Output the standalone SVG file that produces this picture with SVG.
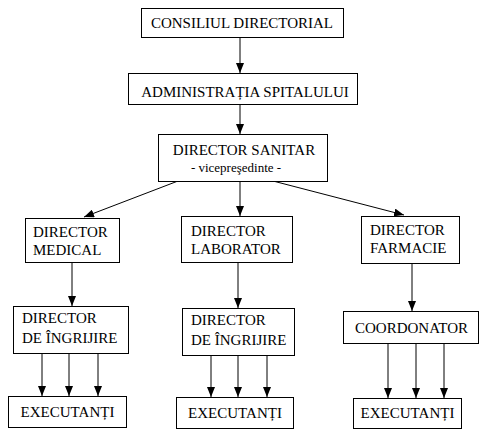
<svg xmlns="http://www.w3.org/2000/svg" width="490" height="439" viewBox="0 0 490 439">
<style>
  .box { fill: #fff; stroke: #000; stroke-width: 1; }
  text { font-family: 'Liberation Serif', 'DejaVu Serif', 'Times New Roman', serif; fill: #000; }
  .t { font-size: 15px; }
  .s { font-size: 13px; }
  .c { text-anchor: middle; }
  .ln { stroke: #000; stroke-width: 1; fill: none; marker-end: url(#ah); }
</style>
<defs>
  <marker id="ah" markerUnits="userSpaceOnUse" markerWidth="10" markerHeight="8" refX="10" refY="4" orient="auto">
    <path d="M0,0 L10,4 L0,8 z" fill="#000"/>
  </marker>
</defs>
<rect width="490" height="439" fill="#fff"/>
<g id="connectors">
  <line class="ln" x1="240" y1="37" x2="240" y2="73"/>
  <line class="ln" x1="240" y1="104" x2="240" y2="134"/>
  <line class="ln" x1="240" y1="181" x2="240" y2="216"/>
  <line class="ln" x1="178" y1="181" x2="84" y2="217"/>
  <line class="ln" x1="273" y1="181" x2="404" y2="215"/>
  <line class="ln" x1="72" y1="262" x2="72" y2="306"/>
  <line class="ln" x1="238" y1="262" x2="238" y2="308"/>
  <line class="ln" x1="412" y1="263" x2="412" y2="311"/>
  <line class="ln" x1="42" y1="353" x2="42" y2="396"/>
  <line class="ln" x1="69" y1="353" x2="69" y2="396"/>
  <line class="ln" x1="98" y1="353" x2="98" y2="396"/>
  <line class="ln" x1="211" y1="355" x2="211" y2="397"/>
  <line class="ln" x1="238" y1="355" x2="238" y2="397"/>
  <line class="ln" x1="267" y1="355" x2="267" y2="397"/>
  <line class="ln" x1="388" y1="343" x2="388" y2="398"/>
  <line class="ln" x1="416" y1="343" x2="416" y2="398"/>
  <line class="ln" x1="444" y1="343" x2="444" y2="398"/>
</g>
<g font-family="Liberation Serif, serif">
<g id="consiliu">
  <rect class="box" x="141.5" y="8.5" width="202" height="29"/>
  <text class="t c" x="242" y="28">CONSILIUL DIRECTORIAL</text>
</g>
<g id="administratia">
  <rect class="box" x="128.5" y="73.5" width="229" height="31"/>
  <text class="t c" x="245" y="97">ADMINISTRAȚIA SPITALULUI</text>
</g>
<g id="sanitar">
  <rect class="box" x="158.5" y="134.5" width="169" height="47"/>
  <text class="t c" x="244" y="155">DIRECTOR SANITAR</text>
  <text class="s c" x="236" y="172">- vicepreşedinte -</text>
</g>
<g id="medical">
  <rect class="box" x="25.5" y="218.5" width="94" height="44"/>
  <text class="t" x="33" y="237">DIRECTOR</text>
  <text class="t" x="33" y="255">MEDICAL</text>
</g>
<g id="laborator">
  <rect class="box" x="181.5" y="216.5" width="111" height="46"/>
  <text class="t" x="191" y="236">DIRECTOR</text>
  <text class="t" x="191" y="254">LABORATOR</text>
</g>
<g id="farmacie">
  <rect class="box" x="361.5" y="216.5" width="98" height="47"/>
  <text class="t" x="370" y="235">DIRECTOR</text>
  <text class="t" x="370" y="253">FARMACIE</text>
</g>
<g id="ingrijire1">
  <rect class="box" x="13.5" y="306.5" width="115" height="47"/>
  <text class="t" x="22" y="323">DIRECTOR</text>
  <text class="t" x="22" y="343">DE ÎNGRIJIRE</text>
</g>
<g id="ingrijire2">
  <rect class="box" x="182.5" y="308.5" width="112" height="47"/>
  <text class="t" x="191" y="325">DIRECTOR</text>
  <text class="t" x="191" y="345">DE ÎNGRIJIRE</text>
</g>
<g id="coordonator">
  <rect class="box" x="343.5" y="311.5" width="135" height="32"/>
  <text class="t" x="355" y="333">COORDONATOR</text>
</g>
<g id="executanti1">
  <rect class="box" x="8.5" y="396.5" width="118" height="31"/>
  <text class="t c" x="67.5" y="417">EXECUTANȚI</text>
</g>
<g id="executanti2">
  <rect class="box" x="176.5" y="397.5" width="117" height="31"/>
  <text class="t c" x="235" y="418">EXECUTANȚI</text>
</g>
<g id="executanti3">
  <rect class="box" x="353.5" y="398.5" width="108" height="30"/>
  <text class="t c" x="407.5" y="418">EXECUTANȚI</text>
</g>
</g>
</svg>
